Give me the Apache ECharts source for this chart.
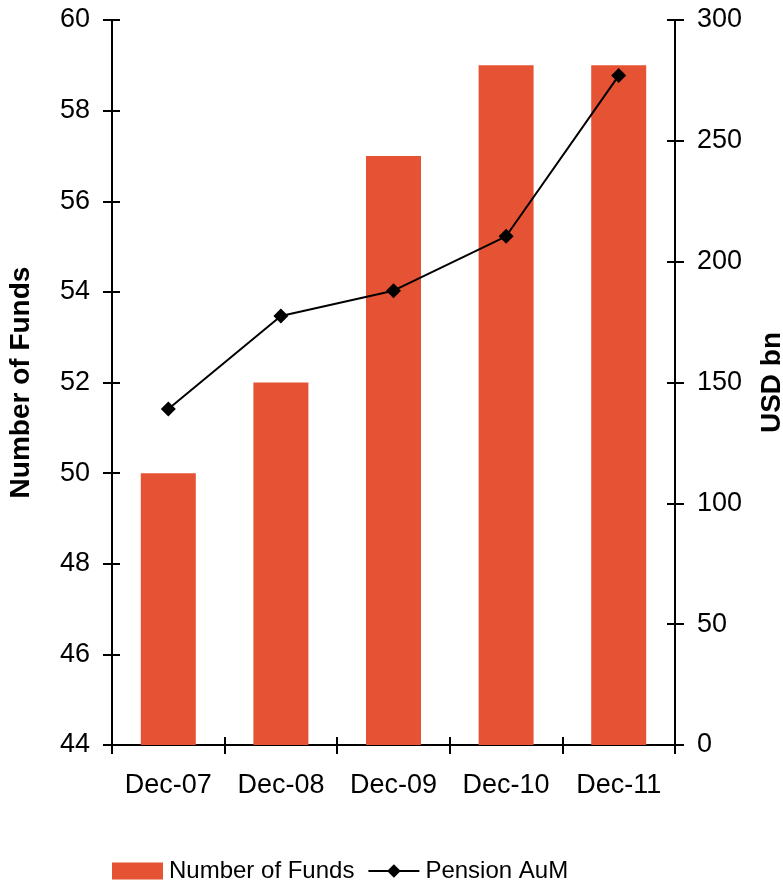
<!DOCTYPE html>
<html>
<head>
<meta charset="utf-8">
<script src="https://cdn.jsdelivr.net/npm/echarts@6/dist/echarts.min.js"></script>
<style>
  html, body { margin: 0; padding: 0; background: #fff; }
  #chart { width: 783px; height: 880px; }
</style>
</head>
<body>
<div id="chart"></div>
<script>
// categories and values
var categories = ['Dec-07', 'Dec-08', 'Dec-09', 'Dec-10', 'Dec-11'];
var numberOfFunds = [50, 52, 57, 59, 59];
var pensionAum = [139, 177.5, 188, 210.5, 277];

var fontFam = '"Liberation Sans", Arial, sans-serif';
var black = '#000';

var chart = echarts.init(document.getElementById('chart'));

var option = {
    animation: false,
    textStyle: { fontFamily: fontFam },
    grid: { left: 112, right: 108, top: 20, bottom: 135, containLabel: false, outerBoundsMode: 'none' },
    legend: {
        left: 112,
        top: 859,
        padding: 0,
        itemWidth: 51,
        itemHeight: 17,
        itemGap: 13,
        textStyle: { fontSize: 24, color: black, fontFamily: fontFam, padding: [0, 0, 0, 1] },
        data: [
            { name: 'Number of Funds', icon: 'rect' },
            { name: 'Pension AuM' }
        ]
    },
    xAxis: [
        {
            type: 'category',
            data: categories,
            axisLine: { lineStyle: { color: black, width: 2 } },
            axisTick: { show: true, interval: 0, length: 9, inside: false, lineStyle: { color: black, width: 2 } },
            axisLabel: { interval: 0, hideOverlap: false, fontSize: 27, color: black, margin: 27, fontFamily: fontFam },
            splitLine: { show: false }
        },
        {
            // same axis again, only for the inner half of the ticks
            type: 'category',
            data: categories,
            position: 'bottom',
            axisLine: { show: false },
            axisTick: { show: true, interval: 0, length: 8, inside: true, lineStyle: { color: black, width: 2 } },
            axisLabel: { show: false },
            splitLine: { show: false }
        }
    ],
    yAxis: [
        {
            type: 'value',
            min: 44, max: 60, interval: 2,
            position: 'left',
            name: 'Number of Funds',
            nameLocation: 'middle',
            nameGap: 77,
            nameTextStyle: { fontSize: 28, fontWeight: 'bold', color: black, fontFamily: fontFam },
            axisLine: { show: true, lineStyle: { color: black, width: 2 } },
            axisTick: { show: true, length: 9, lineStyle: { color: black, width: 2 } },
            axisLabel: { fontSize: 27, color: black, margin: 22, fontFamily: fontFam },
            splitLine: { show: false }
        },
        {
            type: 'value',
            min: 0, max: 300, interval: 50,
            position: 'right',
            name: 'USD bn',
            nameLocation: 'middle',
            nameGap: 83,
            nameRotate: 90,
            nameTextStyle: { fontSize: 28, fontWeight: 'bold', color: black, fontFamily: fontFam },
            axisLine: { show: true, lineStyle: { color: black, width: 2 } },
            axisTick: { show: true, length: 9, lineStyle: { color: black, width: 2 } },
            axisLabel: { fontSize: 27, color: black, margin: 22, fontFamily: fontFam },
            splitLine: { show: false }
        },
        {
            type: 'value',
            min: 44, max: 60, interval: 2,
            position: 'left',
            axisLine: { show: false },
            axisTick: { show: true, length: 8, inside: true, lineStyle: { color: black, width: 2 } },
            axisLabel: { show: false },
            splitLine: { show: false }
        },
        {
            type: 'value',
            min: 0, max: 300, interval: 50,
            position: 'right',
            axisLine: { show: false },
            axisTick: { show: true, length: 8, inside: true, lineStyle: { color: black, width: 2 } },
            axisLabel: { show: false },
            splitLine: { show: false }
        }
    ],
    series: [
        {
            name: 'Number of Funds',
            type: 'bar',
            yAxisIndex: 0,
            data: numberOfFunds,
            barWidth: 55,
            itemStyle: { color: '#E55234' }
        },
        {
            name: 'Pension AuM',
            type: 'line',
            yAxisIndex: 1,
            data: pensionAum,
            symbol: 'diamond',
            symbolSize: 15,
            lineStyle: { color: black, width: 2 },
            itemStyle: { color: black }
        }
    ]
};

chart.setOption(option);
</script>
</body>
</html>
